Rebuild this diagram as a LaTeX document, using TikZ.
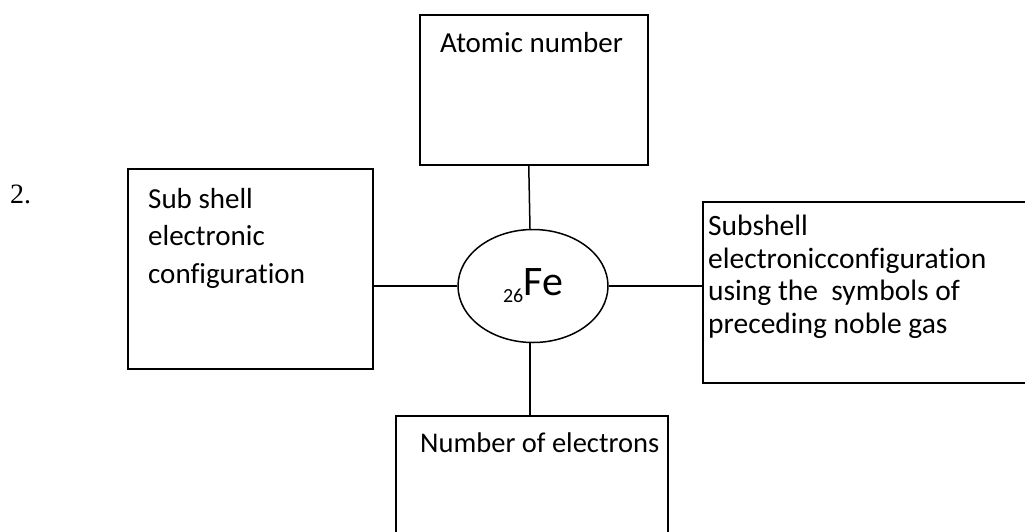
\documentclass[tikz,border=0pt]{standalone}
\usepackage{fontspec}
\setmainfont{Carlito}[Ligatures=NoCommon]
\newfontfamily\numfont{Liberation Serif}
\usetikzlibrary{shapes.geometric}
\begin{document}
\begin{tikzpicture}[x=1pt,y=-1pt,
  box/.style={draw, line width=1.5pt, rectangle, anchor=north west, inner sep=0pt},
  txt/.style={anchor=base west, align=left, inner sep=0pt, font=\fontsize{29}{37.5}\selectfont},
  conn/.style={line width=1.5pt}]
\useasboundingbox (0,0) rectangle (1025,531);
% boxes
\node[box, minimum width=228pt, minimum height=150pt] (top) at (419,14) {};
\node[box, minimum width=245pt, minimum height=200pt] (left) at (127,168) {};
\node[box, minimum width=330pt, minimum height=181pt] (right) at (702,201) {};
\node[box, minimum width=272pt, minimum height=130pt] (bottom) at (395,415) {};
% central ellipse
\node[draw, ellipse, line width=1.5pt, minimum width=150pt, minimum height=113pt, inner sep=0pt] (fe) at (533,286)
  {\raisebox{-7pt}{\fontsize{20}{20}\selectfont 26}\fontsize{42}{42}\selectfont Fe};
% texts (anchor = baseline of the last line)
\node[txt] (ttop) at (440,52) {Atomic number};
\node[txt] (tleft) at (148,283) {Sub shell\\electronic\\configuration};
\node[txt, font=\fontsize{29.5}{32.5}\selectfont] (tright) at (708,333) {Subshell\\electronicconfiguration\\using the\ \ symbols of\\preceding noble gas};
\node[txt, font=\fontsize{28.5}{34}\selectfont] (tbottom) at (420,452) {Number of electrons};
\node[anchor=base west, inner sep=0pt, font=\numfont\fontsize{28}{28}\selectfont] (num) at (10,203) {2.};
% connectors
\draw[conn] ([xshift=-5pt]top.south) -- ([xshift=-3pt]fe.north);
\draw[conn] (fe.west -| left.east) -- (fe.west);
\draw[conn] (fe.east) -- (fe.east -| right.west);
\draw[conn] ([xshift=-3pt]fe.south) -- ([xshift=-3pt]fe.south |- bottom.north);
\end{tikzpicture}
\end{document}
